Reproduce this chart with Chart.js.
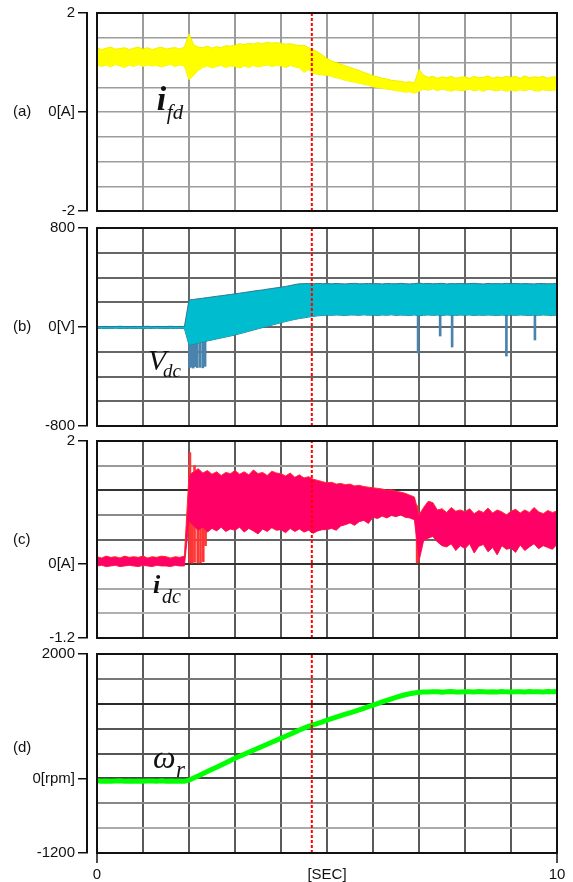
<!DOCTYPE html>
<html lang="en">
<head>
  <meta charset="UTF-8" />
  <title>i_fd, V_dc, i_dc and speed</title>
  <script src="https://cdn.jsdelivr.net/npm/chart.js"></script>
  <style>
    body { margin: 0; background: #fff; }
    #wrap { position: relative; width: 573px; height: 882px; }
    #wrap canvas { position: absolute; left: 0; top: 0; }
  </style>
</head>
<body>
  <div id="wrap">
    <canvas id="chartA" width="573" height="882"></canvas>
    <canvas id="chartB" width="573" height="882"></canvas>
    <canvas id="chartC" width="573" height="882"></canvas>
    <canvas id="chartD" width="573" height="882"></canvas>
  </div>

  <script>
    // time base [s]
    const T = [0,0.1,0.2,0.3,0.4,0.5,0.6,0.7,0.8,0.9,
      1,1.1,1.2,1.3,1.4,1.5,1.6,1.7,1.8,1.9,
      2,2.1,2.2,2.3,2.4,2.5,2.6,2.7,2.8,2.9,
      3,3.1,3.2,3.3,3.4,3.5,3.6,3.7,3.8,3.9,
      4,4.1,4.2,4.3,4.4,4.5,4.6,4.7,4.8,4.9,
      5,5.1,5.2,5.3,5.4,5.5,5.6,5.7,5.8,5.9,
      6,6.1,6.2,6.3,6.4,6.5,6.6,6.7,6.8,6.9,
      7,7.1,7.2,7.3,7.4,7.5,7.6,7.7,7.8,7.9,
      8,8.1,8.2,8.3,8.4,8.5,8.6,8.7,8.8,8.9,
      9,9.1,9.2,9.3,9.4,9.5,9.6,9.7,9.8,9.9,10];

    const xTicks = [0,1,2,3,4,5,6,7,8,9,10];
    const xLabelAt = [0, 5, 10];
    const xLabelText = ['0', '[SEC]', '10'];
    const markT = 4.67;

    // (a) field current i_fd [A], band upper / lower edge
    const ifdHi = [1.30,1.26,1.29,1.31,1.27,1.28,1.30,1.26,1.29,1.31,
      1.27,1.30,1.26,1.29,1.31,1.27,1.29,1.30,1.27,1.31,
      1.58,1.36,1.31,1.30,1.33,1.29,1.32,1.30,1.34,1.33,
      1.35,1.38,1.36,1.39,1.37,1.40,1.38,1.41,1.39,1.40,
      1.39,1.37,1.38,1.36,1.34,1.35,1.30,1.26,1.21,1.15,
      1.08,1.03,1.00,0.97,0.93,0.90,0.87,0.84,0.80,0.77,
      0.73,0.71,0.68,0.67,0.64,0.63,0.62,0.60,0.61,0.59,
      0.86,0.74,0.70,0.72,0.68,0.71,0.69,0.72,0.68,0.70,
      0.71,0.68,0.72,0.69,0.70,0.73,0.68,0.71,0.69,0.72,
      0.70,0.72,0.68,0.73,0.69,0.71,0.70,0.72,0.68,0.71,0.70];
    const ifdLo = [0.95,0.92,0.95,0.91,0.96,0.93,0.90,0.95,0.92,0.96,
      0.92,0.95,0.93,0.94,0.91,0.94,0.96,0.92,0.95,0.93,
      0.65,0.74,0.84,0.90,0.93,0.89,0.92,0.94,0.90,0.93,
      0.92,0.89,0.93,0.90,0.94,0.91,0.93,0.95,0.92,0.94,
      0.93,0.90,0.94,0.91,0.89,0.80,0.86,0.78,0.76,0.75,
      0.74,0.72,0.69,0.67,0.64,0.62,0.60,0.58,0.56,0.54,
      0.51,0.49,0.48,0.46,0.45,0.43,0.42,0.40,0.41,0.38,
      0.42,0.46,0.44,0.47,0.43,0.46,0.44,0.42,0.45,0.43,
      0.44,0.46,0.43,0.45,0.42,0.46,0.44,0.43,0.45,0.42,
      0.44,0.42,0.45,0.43,0.46,0.44,0.42,0.45,0.43,0.44,0.45];

    // (b) DC link voltage V_dc [V]
    const vdcHi = [4,4,5,3,4,6,4,3,5,4,
      4,6,3,5,4,4,6,4,5,4,
      218,223,228,233,238,243,248,253,258,263,
      268,273,279,284,290,295,300,306,311,317,
      322,328,335,343,349,350,351,350,352,350,
      351,349,352,350,348,351,353,349,350,352,
      349,351,348,352,350,349,353,350,348,351,
      355,350,352,349,351,353,348,351,350,352,
      349,351,353,350,348,352,350,351,349,353,
      350,352,349,351,350,348,352,351,349,350,351];
    const vdcLo = [-12,-11,-13,-12,-10,-12,-13,-11,-12,-12,
      -13,-11,-12,-10,-12,-13,-11,-12,-12,-13,
      -145,-137,-129,-121,-113,-105,-97,-89,-81,-73,
      -65,-55,-45,-35,-25,-15,-5,5,15,25,
      35,44,53,61,68,74,80,85,90,93,
      96,94,97,95,93,97,96,94,98,95,
      96,93,97,95,98,94,96,95,93,97,
      90,95,97,94,96,93,97,95,94,96,
      95,97,93,96,94,97,95,93,96,94,
      96,94,97,95,93,96,94,97,95,93,96];
    const vdcSpikeT = [2.01,2.05,2.09,2.13,2.18,2.24,2.30,2.35,6.98,7.46,7.72,8.90,9.52];
    const vdcSpikeLo = [-330,-325,-332,-320,-328,-326,-330,-318,-210,-73,-162,-235,-105];
    const vdcSpikeHi = [-140,-138,-134,-131,-127,-122,-117,-113,95,95,95,95,95];

    // (c) DC current i_dc [A]
    const idcHi = [0.12,0.10,0.13,0.11,0.12,0.10,0.13,0.11,0.12,0.11,
      0.13,0.10,0.12,0.11,0.13,0.12,0.10,0.12,0.11,0.13,
      1.45,1.50,1.55,1.48,1.52,1.46,1.50,1.44,1.49,1.47,
      1.52,1.46,1.50,1.45,1.53,1.47,1.49,1.44,1.51,1.48,
      1.47,1.43,1.48,1.41,1.45,1.40,1.42,1.38,1.36,1.34,
      1.32,1.33,1.30,1.31,1.29,1.30,1.27,1.28,1.26,1.25,
      1.24,1.23,1.22,1.20,1.21,1.18,1.17,1.15,1.12,1.09,
      0.80,0.92,1.02,1.00,0.88,0.90,0.84,0.92,0.86,0.88,
      0.85,0.90,0.82,0.87,0.84,0.91,0.83,0.88,0.85,0.80,
      0.86,0.89,0.83,0.88,0.84,0.92,0.85,0.82,0.87,0.84,0.86];
    const idcLo = [-0.03,-0.02,-0.04,-0.03,-0.02,-0.04,-0.03,-0.02,-0.03,-0.04,
      -0.02,-0.03,-0.04,-0.02,-0.03,-0.03,-0.04,-0.02,-0.03,-0.03,
      0.70,0.62,0.55,0.60,0.52,0.58,0.54,0.60,0.53,0.57,
      0.55,0.60,0.52,0.58,0.54,0.49,0.57,0.53,0.59,0.55,
      0.56,0.51,0.58,0.53,0.57,0.52,0.55,0.50,0.54,0.56,
      0.56,0.58,0.55,0.62,0.64,0.67,0.63,0.69,0.71,0.66,
      0.76,0.74,0.78,0.75,0.79,0.77,0.80,0.76,0.75,0.72,
      0.05,0.38,0.42,0.45,0.36,0.30,0.28,0.33,0.22,0.30,
      0.25,0.33,0.18,0.29,0.32,0.20,0.27,0.15,0.30,0.24,
      0.26,0.19,0.31,0.22,0.28,0.33,0.25,0.30,0.27,0.24,0.32];
    const idcSpikeT = [2.02,2.07,2.12,2.19,2.25,2.31,2.36,6.96];
    const idcSpikeLo = [0.02,0.00,0.03,0.00,0.02,0.04,0.30,0.02];
    const idcSpikeHi = [1.81,1.00,1.60,1.50,1.02,0.90,0.95,0.95];

    // (d) rotor speed w_r [rpm]
    const wr = [-40,-45,-42,-48,-44,-40,-46,-43,-45,-41,
      -47,-44,-42,-46,-40,-45,-43,-47,-44,-46,
      -30,5,40,75,110,145,180,215,250,288,
      323,355,388,420,452,485,516,548,580,612,
      645,678,711,744,777,808,838,862,885,908,
      937,961,985,1008,1032,1055,1079,1103,1127,1152,
      1177,1203,1229,1255,1280,1304,1325,1344,1360,1373,
      1384,1390,1388,1393,1391,1387,1393,1396,1390,1388,
      1394,1391,1389,1395,1392,1388,1393,1390,1396,1391,
      1389,1394,1392,1388,1395,1391,1393,1389,1396,1392,1398];

    // axis ticks / labels per panel
    const gridA = [-2,-1.5,-1,-0.5,0,0.5,1,1.5,2];
    const labelAtA = [-2, 0, 2];
    const labelTextA = ['-2', '0[A]', '2'];
    const gridB = [-800,-600,-400,-200,0,200,400,600,800];
    const labelAtB = [-800, 0, 800];
    const labelTextB = ['-800', '0[V]', '800'];
    const gridC = [-1.2,-0.8,-0.4,0,0.4,0.8,1.2,1.6,2];
    const labelAtC = [-1.2, 0, 2];
    const labelTextC = ['-1.2', '0[A]', '2'];
    const gridD = [-1200,-800,-400,0,400,800,1200,1600,2000];
    const labelAtD = [-1200, 0, 2000];
    const labelTextD = ['-1200', '0[rpm]', '2000'];

    const tickFont = { family: '"Liberation Sans", Arial, sans-serif', size: 15 };
    const pts = vals => vals.map((v, i) => ({ x: T[i], y: v }));
    const spikes = (ts, lo, hi) => ts.map((t, i) => ({ x: t, y: [lo[i], hi[i]] }));

    function band(hi, lo, fill, edge) {
      return [
        { type: 'line', data: pts(hi), borderColor: edge, borderWidth: 1, backgroundColor: fill,
          fill: '+1', pointRadius: 0, tension: 0, yAxisID: 'y' },
        { type: 'line', data: pts(lo), borderColor: edge, borderWidth: 1, fill: false,
          pointRadius: 0, tension: 0, yAxisID: 'y' }
      ];
    }
    function spikeSet(data, color) {
      return { type: 'bar', data: data, backgroundColor: color, borderWidth: 0,
        barThickness: 2, grouped: false, yAxisID: 'y' };
    }
    function marker(min, max) {
      return { type: 'line', data: [{ x: markT, y: min }, { x: markT, y: max }],
        borderColor: '#ff0000', borderWidth: 2, borderDash: [3, 2], pointRadius: 0,
        fill: false, order: -1, yAxisID: 'y' };
    }

    const framePlugin = {
      id: 'frame',
      afterDraw(chart) {
        const { ctx, chartArea: a } = chart;
        ctx.save();
        ctx.strokeStyle = '#111';
        ctx.lineWidth = 2;
        ctx.strokeRect(a.left, a.top, a.right - a.left, a.bottom - a.top);
        ctx.restore();
      }
    };

    const textPlugin = {
      id: 'panelText',
      afterDraw(chart, args, o) {
        const { ctx } = chart;
        const x = chart.scales.x, y = chart.scales.y;
        ctx.save();
        ctx.fillStyle = '#111';
        ctx.font = '15px "Liberation Sans", Arial, sans-serif';
        ctx.textBaseline = 'middle';
        ctx.fillText(o.letter, 13, y.getPixelForValue(o.letterAt));
        const sx = x.getPixelForValue(o.symT), sy = y.getPixelForValue(o.symV);
        ctx.textBaseline = 'alphabetic';
        ctx.font = o.mainFont;
        ctx.fillText(o.main, sx, sy);
        ctx.font = o.subFont;
        ctx.fillText(o.sub, sx + o.subDx, sy + o.subDy);
        ctx.restore();
      }
    };

    function buildPanel(id, p) {
      return new Chart(document.getElementById(id), {
        type: 'line',
        data: { datasets: p.datasets },
        options: {
          responsive: false,
          animation: false,
          events: [],
          layout: { padding: { left: 0, right: 16, top: p.top, bottom: p.bottom } },
          plugins: { legend: { display: false }, tooltip: { enabled: false }, panelText: p.text },
          scales: {
            x: {
              type: 'linear', min: 0, max: 10, offset: false,
              afterBuildTicks: s => { s.ticks = xTicks.map(v => ({ value: v })); },
              ticks: {
                display: p.showX, autoSkip: false, maxRotation: 0, padding: 3,
                font: tickFont, color: '#111',
                callback: v => { const i = xLabelAt.indexOf(v); return i < 0 ? '' : xLabelText[i]; }
              },
              grid: {
                offset: false, color: p.xGrid, lineWidth: 2, drawTicks: p.showX, tickLength: 10, tickWidth: 1.5,
                tickColor: c => (c.tick && (c.tick.value === 0 || c.tick.value === 10)) ? '#111' : 'rgba(0,0,0,0)'
              },
              border: { display: false },
              afterFit: s => { s.height = p.showX ? 29 : 0; s.paddingLeft = 0; s.paddingRight = 0; }
            },
            y: {
              type: 'linear', position: 'left', weight: 0, min: p.min, max: p.max,
              afterBuildTicks: s => { s.ticks = p.grid.map(v => ({ value: v })); },
              ticks: { display: false },
              grid: {
                offset: false, color: c => p.yGrid(c.tick ? c.tick.value : 0),
                lineWidth: p.yGridWidth, drawTicks: false
              },
              border: { display: false },
              afterFit: s => { s.width = 10; s.paddingTop = 0; s.paddingBottom = 0; }
            },
            yl: {
              type: 'linear', axis: 'y', position: 'left', weight: 1, min: p.min, max: p.max,
              afterBuildTicks: s => { s.ticks = p.labelAt.map(v => ({ value: v })); },
              ticks: {
                padding: 3, font: tickFont, color: '#111',
                callback: v => p.labelText[p.labelAt.indexOf(v)]
              },
              grid: { drawOnChartArea: false, drawTicks: true, tickLength: 9, color: '#111', lineWidth: 1.5 },
              border: { display: true, color: '#111', width: 2 },
              afterFit: s => { s.width = 87; s.paddingTop = 0; s.paddingBottom = 0; }
            }
          }
        },
        plugins: [framePlugin, textPlugin]
      });
    }

    const serif = '"Liberation Serif", "Times New Roman", serif';

    buildPanel('chartA', {
      top: 13, bottom: 671, min: -2, max: 2, showX: false,
      grid: gridA, labelAt: labelAtA, labelText: labelTextA,
      xGrid: '#9c9c9c', yGrid: () => '#9c9c9c', yGridWidth: 1.5,
      datasets: [marker(-2, 2)].concat(band(ifdHi, ifdLo, '#ffff00', '#f0ee00')),
      text: { letter: '(a)', letterAt: 0, main: 'i', sub: 'fd', symT: 1.30, symV: 0.04,
        mainFont: 'italic bold 34px ' + serif, subFont: 'italic 21px ' + serif, subDx: 10, subDy: 9 }
    });

    buildPanel('chartB', {
      top: 228, bottom: 456, min: -800, max: 800, showX: false,
      grid: gridB, labelAt: labelAtB, labelText: labelTextB,
      xGrid: '#666666', yGrid: () => '#666666', yGridWidth: 2,
      datasets: [marker(-800, 800)].concat(band(vdcHi, vdcLo, '#00bccf', '#2f7890'),
        [spikeSet(spikes(vdcSpikeT, vdcSpikeLo, vdcSpikeHi), '#4a84ad')]),
      text: { letter: '(b)', letterAt: 0, main: 'V', sub: 'dc', symT: 1.11, symV: -347,
        mainFont: 'italic 30px ' + serif, subFont: 'italic 19px ' + serif, subDx: 15, subDy: 7 }
    });

    const gridColC = { '2': '#111', '1.6': '#9a9a9a', '1.2': '#333', '0.8': '#8a8a8a', '0.4': '#666',
      '0': '#333', '-0.4': '#a8a8a8', '-0.8': '#b0b0b0', '-1.2': '#111' };
    buildPanel('chartC', {
      top: 441, bottom: 244, min: -1.2, max: 2, showX: false,
      grid: gridC, labelAt: labelAtC, labelText: labelTextC,
      xGrid: '#5a5a5a', yGrid: v => gridColC[String(v)] || '#888', yGridWidth: 2,
      datasets: [marker(-1.2, 2)].concat(band(idcHi, idcLo, '#ff0066', '#ff2a2a'),
        [spikeSet(spikes(idcSpikeT, idcSpikeLo, idcSpikeHi), '#ff3535')]),
      text: { letter: '(c)', letterAt: 0.39, main: 'i', sub: 'dc', symT: 1.22, symV: -0.47,
        mainFont: 'italic bold 26px ' + serif, subFont: 'italic 20px ' + serif, subDx: 9, subDy: 10 }
    });

    const gridColD = { '2000': '#111', '1600': '#777', '1200': '#2a2a2a', '800': '#555', '400': '#555',
      '0': '#444', '-400': '#888', '-800': '#ababab', '-1200': '#111' };
    buildPanel('chartD', {
      top: 654, bottom: 0, min: -1200, max: 2000, showX: true,
      grid: gridD, labelAt: labelAtD, labelText: labelTextD,
      xGrid: '#5a5a5a', yGrid: v => gridColD[String(v)] || '#888', yGridWidth: 2,
      datasets: [marker(-1200, 2000),
        { type: 'line', data: pts(wr), borderColor: '#00ff00', borderWidth: 5, fill: false,
          pointRadius: 0, tension: 0, yAxisID: 'y' }],
      text: { letter: '(d)', letterAt: 489, main: 'ω', sub: 'r', symT: 1.22, symV: 167,
        mainFont: 'italic 32px ' + serif, subFont: 'italic 23px ' + serif, subDx: 23, subDy: 9 }
    });
  </script>
</body>
</html>
